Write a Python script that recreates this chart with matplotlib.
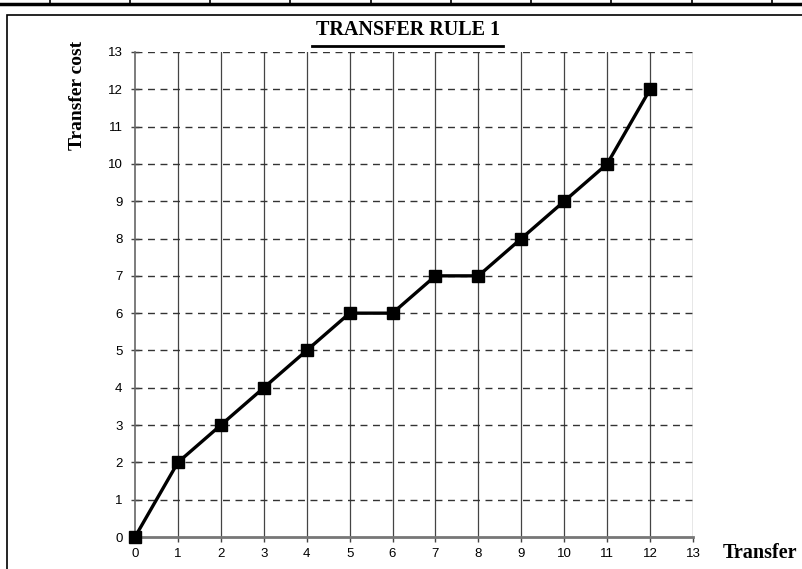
import matplotlib
matplotlib.use("Agg")
import matplotlib.pyplot as plt
from matplotlib.lines import Line2D
from matplotlib.patches import Rectangle

transfers = [0, 1, 2, 3, 4, 5, 6, 7, 8, 9, 10, 11, 12]
costs = [0, 2, 3, 4, 5, 6, 6, 7, 7, 8, 9, 10, 12]
ticks = list(range(0, 14))

W, H = 803, 569
fig = plt.figure(figsize=(W / 100, H / 100), dpi=100)
fig.patch.set_facecolor("white")

# Axes: x 0 -> px 135, 13 -> px 693 ; y 13 -> px 52, 0 -> px 537
x0, x1 = 135, 693
y0, y1 = 537, 52
ax = fig.add_axes([x0 / W, 1 - y0 / H, (x1 - x0) / W, (y0 - y1) / H])
ax.set_xlim(0, 13)
ax.set_ylim(0, 13)
ax.set_xticks(ticks)
ax.set_yticks(ticks)

for x in ticks[1:]:
    ax.axvline(x, color="#444444", lw=0.9, zorder=1)
for y in ticks[1:]:
    ax.axhline(y, color="#333333", lw=1.0, ls=(0, (5, 4)), zorder=1)

for s in ["top", "right"]:
    ax.spines[s].set_visible(False)
ax.spines["left"].set_color("#666666")
ax.spines["left"].set_linewidth(1.2)
ax.spines["bottom"].set_color("#777777")
ax.spines["bottom"].set_linewidth(2.0)

ax.tick_params(axis="x", direction="out", length=3.6, width=1, color="#444444",
               labelsize=9.5, pad=4)
ax.tick_params(axis="y", direction="inout", length=6, width=1, color="#444444",
               labelsize=9.5, pad=6)
for lab in ax.get_xticklabels() + ax.get_yticklabels():
    lab.set_fontfamily("Liberation Sans")

ax.plot(transfers, costs, color="black", lw=2.4, marker="s", markersize=9,
        markerfacecolor="black", markeredgecolor="black", zorder=5, clip_on=False)

fig.text(78 / W, 1 - 95 / H, "Transfer cost", fontfamily="Liberation Serif",
         fontweight="bold", fontsize=14, rotation=90, ha="center", va="center")

fig.text(760 / W, 1 - 553 / H, "Transfer", fontfamily="Liberation Serif",
         fontweight="bold", fontsize=14.5, ha="center", va="center")

fig.text(408 / W, 1 - 30 / H, "TRANSFER RULE 1", fontfamily="Liberation Serif",
         fontweight="bold", fontsize=14.5, ha="center", va="center")
# underline
fig.add_artist(Line2D([312 / W, 503 / W], [1 - 45.5 / H, 1 - 45.5 / H],
                      color="black", lw=2, transform=fig.transFigure))

# outer chart frame
fig.add_artist(Rectangle((7 / W, -0.01), (W - 7) / W + 0.01, 1 - 15 / H + 0.01,
                         transform=fig.transFigure, fill=False, ec="black", lw=1.2))
# table row above
fig.add_artist(Line2D([0, 1], [1 - 4 / H, 1 - 4 / H], color="black", lw=2.5,
                      transform=fig.transFigure))
for xv in [50, 130, 210, 290, 371, 451, 531, 611, 692, 772]:
    fig.add_artist(Line2D([xv / W, xv / W], [1 - 4 / H, 1], color="black", lw=1.2,
                          transform=fig.transFigure))

fig.savefig("out.png", dpi=100)
